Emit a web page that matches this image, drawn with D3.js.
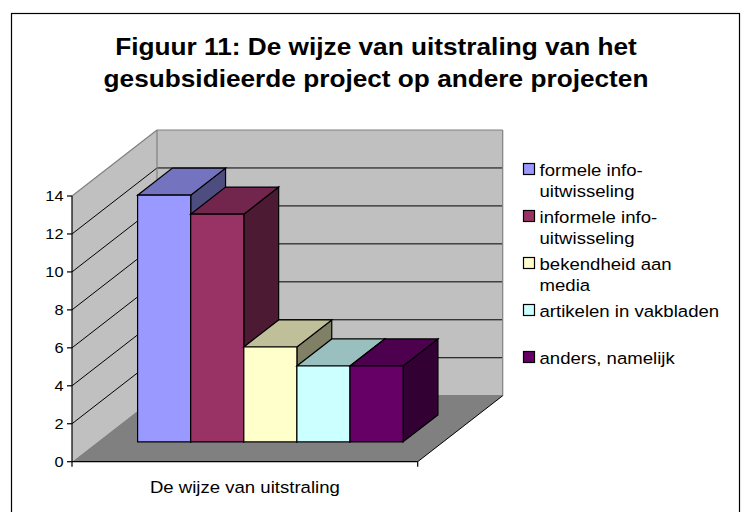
<!DOCTYPE html>
<html><head><meta charset="utf-8">
<script src="https://cdn.jsdelivr.net/npm/d3@7"></script>
<style>body{margin:0;background:#fff}svg{display:block}text{font-family:"Liberation Sans",Arial,sans-serif;fill:#000}</style>
</head><body>
<script>
const titleLines = ["Figuur 11: De wijze van uitstraling van het", "gesubsidieerde project op andere projecten"];
const category = "De wijze van uitstraling";
const series = ["formele info-uitwisseling","informele info-uitwisseling","bekendheid aan media","artikelen in vakbladen","anders, namelijk"];
const legendLines = [["formele info-","uitwisseling"],["informele info-","uitwisseling"],["bekendheid aan","media"],["artikelen in vakbladen"],["anders, namelijk"]];
const values = [13, 12, 5, 4, 4];
const colors = ["#9999FF","#993366","#FFFFCC","#CCFFFF","#660066"];
const yTicks = [0,2,4,6,8,10,12,14];

const W=744,H=512;
const svg=d3.select("body").append("svg").attr("width",W).attr("height",H);
svg.append("rect").attr("x",11.5).attr("y",13.5).attr("width",728).attr("height",520).attr("fill","#fff").attr("stroke","#000").attr("stroke-width",1.2);

// 3D geometry
const x0=72, x1=417.7, DX=85, DY=-66;
const y = d3.scaleLinear().domain([0,14]).range([461.7,196]);
const xb = d3.scaleBand().domain(series).range([x0,x1]).paddingInner(0).paddingOuter(0.755);
const P=(x,v,d)=>[x+d*DX, y(v)+d*DY];
const poly=pts=>"M"+pts.map(p=>p.join(",")).join("L")+"Z";
const line=(a,b)=>"M"+a.join(",")+"L"+b.join(",");

const g=svg.append("g");
// walls
g.append("path").attr("d",poly([P(x0,0,0),P(x0,0,1),P(x0,14,1),P(x0,14,0)])).attr("fill","#C0C0C0");
g.append("path").attr("d",poly([P(x0,0,1),P(x1,0,1),P(x1,14,1),P(x0,14,1)])).attr("fill","#C0C0C0");
// floor
g.append("path").attr("d",poly([P(x0,0,0),P(x1,0,0),P(x1,0,1),P(x0,0,1)])).attr("fill","#808080");
// gridlines
yTicks.filter(t=>t>0&&t<14).forEach(t=>{
  g.append("path").attr("d",line(P(x0,t,0),P(x0,t,1))+line(P(x0,t,1),P(x1,t,1))).attr("stroke","#000").attr("stroke-width",1).attr("fill","none");
});
// wall edges
g.append("path").attr("d",line(P(x0,14,0),P(x0,14,1))+line(P(x0,14,1),P(x1,14,1))+line(P(x1,14,1),P(x1,0,1))+line(P(x0,14,1),P(x0,0,1))+line(P(x0,0,1),P(x1,0,1)))
  .attr("stroke","#808080").attr("stroke-width",1.2).attr("fill","none");
// floor edges
g.append("path").attr("d",line(P(x1,0,0),P(x1,0,1))).attr("stroke","#000").attr("stroke-width",1).attr("fill","none");

// bars
const d0=0.3,d1=0.71;
const shade=(c,k)=>{const r=d3.rgb(c);return d3.rgb(r.r*k,r.g*k,r.b*k).formatHex();};
series.forEach((s,i)=>{
  const xl=xb(s), xr=xl+xb.bandwidth(), v=values[i], c=colors[i];
  const bg=g.append("g").attr("stroke","#000").attr("stroke-width",1.2).attr("stroke-linejoin","miter");
  bg.append("path").attr("d",poly([P(xr,0,d0),P(xr,0,d1),P(xr,v,d1),P(xr,v,d0)])).attr("fill",shade(c,0.5));
  bg.append("path").attr("d",poly([P(xl,v,d0),P(xr,v,d0),P(xr,v,d1),P(xl,v,d1)])).attr("fill",shade(c,0.75));
  bg.append("path").attr("d",poly([P(xl,0,d0),P(xr,0,d0),P(xr,v,d0),P(xl,v,d0)])).attr("fill",c);
});

// axes
const ax=svg.append("g").attr("stroke","#000").attr("stroke-width",1.2).attr("fill","none");
ax.append("path").attr("d",line([x0,y(0)],[x0,y(14)])+line([x0,y(0)],[x1,y(0)])+line([x0,y(0)],[x0,y(0)+5])+line([x1,y(0)],[x1,y(0)+5]));
yTicks.forEach(t=>ax.append("path").attr("d",line([x0-5,y(t)],[x0,y(t)])));
const ts=1.17;
svg.append("g").selectAll("text").data(yTicks).join("text")
  .attr("transform",t=>`translate(63.5,${y(t)+5.2}) scale(${ts},1)`)
  .attr("text-anchor","end").attr("font-size",14).text(t=>t);

const fs=16.3, sx=1.14;
svg.append("text").attr("transform",`translate(${(x0+x1)/2},493.3) scale(${sx},1)`).attr("text-anchor","middle").attr("font-size",fs).text(category);

// title
titleLines.forEach((t,i)=>svg.append("text").attr("transform",`translate(376,${55+i*31.7}) scale(1.093,1)`)
  .attr("text-anchor","middle").attr("font-size",24).attr("font-weight","bold").text(t));

// legend
const lg=svg.append("g");
legendLines.forEach((ls,i)=>{
  const by=176+i*47;
  lg.append("rect").attr("x",523.5).attr("y",by-12.5).attr("width",11).attr("height",11).attr("fill",colors[i]).attr("stroke","#000").attr("stroke-width",1.2);
  ls.forEach((l,j)=>lg.append("text").attr("transform",`translate(539.5,${by+j*20.7}) scale(${sx},1)`).attr("font-size",fs).text(l));
});
</script>
</body></html>
